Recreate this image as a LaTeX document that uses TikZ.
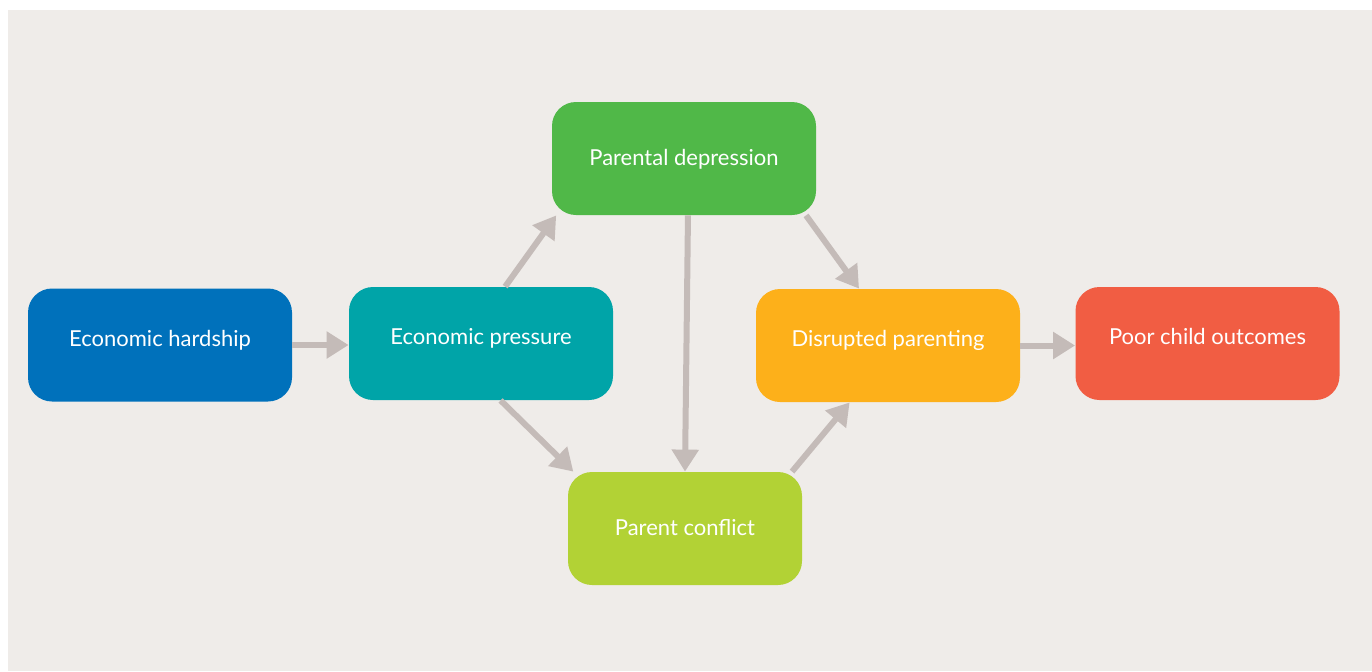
\documentclass[tikz,border=0pt]{standalone}
\usepackage{fontspec}
\setmainfont{Lato}
\usetikzlibrary{arrows.meta}
\definecolor{bgbeige}{HTML}{EFECE9}
\definecolor{linkgrey}{HTML}{C4BBB8}
\definecolor{hardblue}{HTML}{0071BB}
\definecolor{pressteal}{HTML}{00A4A8}
\definecolor{depgreen}{HTML}{50B848}
\definecolor{conflime}{HTML}{B2D235}
\definecolor{disorange}{HTML}{FDB01A}
\definecolor{poorred}{HTML}{F15D43}
\tikzset{
every picture/.style={x=0.5pt,y=-0.5pt}
}
\tikzset{
  stepbox/.style={rectangle, rounded corners=12pt, minimum width=132pt,
    minimum height=56.5pt, inner sep=0pt, text=white,
    text height=8pt, text depth=0.6pt, font=\fontsize{11}{13}\selectfont},
  raised/.style={text depth=7pt},
  link/.style={draw=linkgrey, line width=3pt,
    -{Triangle[length=11pt,width=13pt]}}
}
\begin{document}
\begin{tikzpicture}
  \useasboundingbox (0,0) rectangle (1372,671);
  \fill[bgbeige] (8,10) rectangle (1372,671);

  \node[stepbox, raised, fill=hardblue] (hardship) at (160,345) {Economic hardship};
  \node[stepbox, raised, fill=pressteal] (pressure) at (481,343.5) {Economic pressure};
  \node[stepbox, fill=depgreen] (depression) at (684,158.5) {Parental depression};
  \node[stepbox, fill=conflime, minimum width=117pt] (conflict) at (685,528.5) {Parent conflict};
  \node[stepbox, raised, fill=disorange] (disrupted) at (888,345.5) {Disrupted parenting};
  \node[stepbox, raised, fill=poorred] (poor) at (1207.5,343.5) {Poor child outcomes};

  \draw[link] (hardship.east) -- (hardship.east -| pressure.west);
  \draw[link] (pressure.67) -- (depression.204);
  \draw[link] (pressure.289) -- (conflict.153);
  \draw[link] (depression.274) -- (conflict.north);
  \draw[link] (depression.335) -- (disrupted.117);
  \draw[link] (conflict.28) -- (disrupted.236);
  \draw[link] (disrupted.east) -- (disrupted.east -| poor.west);
\end{tikzpicture}
\end{document}
